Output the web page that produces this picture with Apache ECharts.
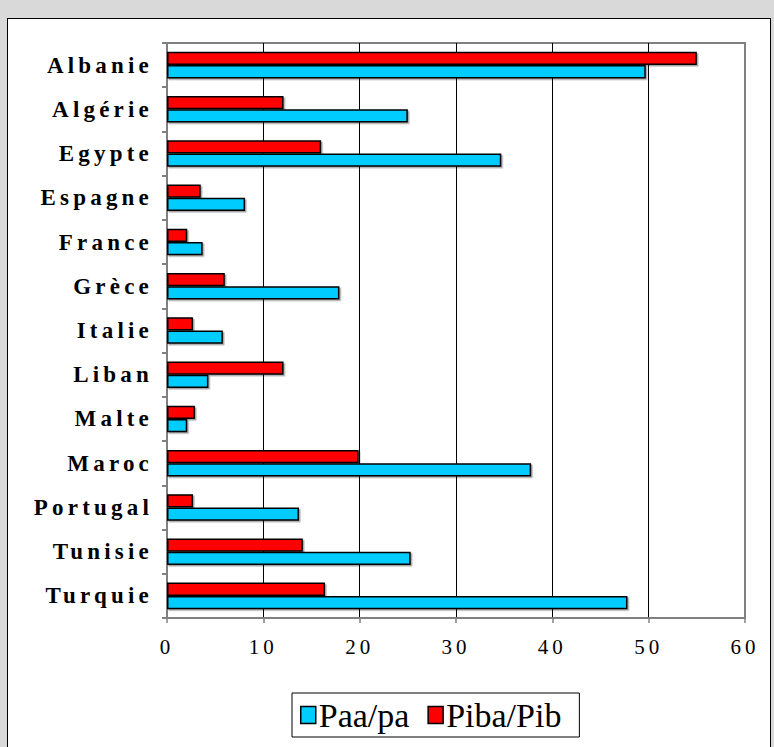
<!DOCTYPE html>
<html><head><meta charset="utf-8">
<script src="https://cdn.jsdelivr.net/npm/echarts@6/dist/echarts.min.js"></script>
<style>
html,body{margin:0;padding:0;background:#d9d9d9;width:774px;height:747px;overflow:hidden}
#frame{position:absolute;left:7px;top:18px;width:764px;height:760px;background:#fff;border:1.5px solid #000;box-sizing:border-box}
#chart{position:absolute;left:0;top:0;width:774px;height:747px}
#chart text[style*="spacedY"]{letter-spacing:4.2px}
#chart text[style*="spacedX"]{letter-spacing:4px}
</style></head><body>
<div id="frame"></div><div id="chart"></div>
<script>
const categories = ['Albanie','Algérie','Egypte','Espagne','France','Grèce','Italie','Liban','Malte','Maroc','Portugal','Tunisie','Turquie'];
const paaPa   = [49.7, 25.0, 34.7, 8.1, 3.7, 17.9, 5.8, 4.3, 2.1, 37.8, 13.7, 25.3, 47.8];
const pibaPib = [55.0, 12.1, 16.0, 3.5, 2.1, 6.0, 2.7, 12.1, 2.9, 19.9, 2.7, 14.1, 16.4];
const seriesNames = ['Paa/pa', 'Piba/Pib'];
const xMin = 0, xMax = 60, xStep = 10;

const chart = echarts.init(document.getElementById('chart'), null, {renderer: 'svg'});
const barStyle = (c) => ({
  color: c, borderColor: '#000', borderWidth: 1.5,
  shadowColor: 'rgba(0,0,0,0.35)', shadowOffsetX: 1.5, shadowOffsetY: 1.5, shadowBlur: 0
});
chart.setOption({
  animation: false,
  backgroundColor: 'transparent',
  grid: {left: 167, right: 29, top: 43, bottom: 129, show: true, borderColor: '#808080', borderWidth: 2, backgroundColor: 'transparent'},
  legend: {
    data: seriesNames,
    left: 292, top: 693,
    backgroundColor: '#fff', borderColor: '#000', borderWidth: 1, borderRadius: 0,
    padding: [5, 18, 5, 8],
    itemWidth: 15, itemHeight: 17, itemGap: 18,
    icon: 'rect',
    itemStyle: {borderColor: '#000', borderWidth: 1.5, shadowColor: 'transparent', shadowBlur: 0, shadowOffsetX: 0, shadowOffsetY: 0},
    textStyle: {fontFamily: '"Liberation Serif"', fontSize: 34, color: '#000', padding: [0, 0, 0, -2]}
  },
  xAxis: {
    type: 'value', min: xMin, max: xMax, interval: xStep,
    axisLine: {show: true, lineStyle: {color: '#808080', width: 2}},
    axisTick: {show: true, length: 5, lineStyle: {color: '#808080', width: 1.5}},
    axisLabel: {fontFamily: '"Liberation Serif", spacedX', fontSize: 21, color: '#000', margin: 18},
    splitLine: {show: true, showMinLine: false, showMaxLine: false, lineStyle: {color: '#000', width: 1}}
  },
  yAxis: {
    type: 'category', data: categories, inverse: true,
    axisLine: {show: true, lineStyle: {color: '#808080', width: 2}},
    axisTick: {show: true, length: 5, lineStyle: {color: '#808080', width: 2}},
    axisLabel: {fontFamily: '"Liberation Serif", spacedY', fontWeight: 'bold', fontSize: 23, color: '#000', margin: 14},
    splitLine: {show: false}
  },
  series: [
    {name: seriesNames[1], type: 'bar', data: pibaPib, barGap: '0%', barCategoryGap: '40%', itemStyle: barStyle('#ff0000')},
    {name: seriesNames[0], type: 'bar', data: paaPa, barGap: '0%', barCategoryGap: '40%', itemStyle: barStyle('#00ccff')}
  ]
});
</script>
</body></html>
